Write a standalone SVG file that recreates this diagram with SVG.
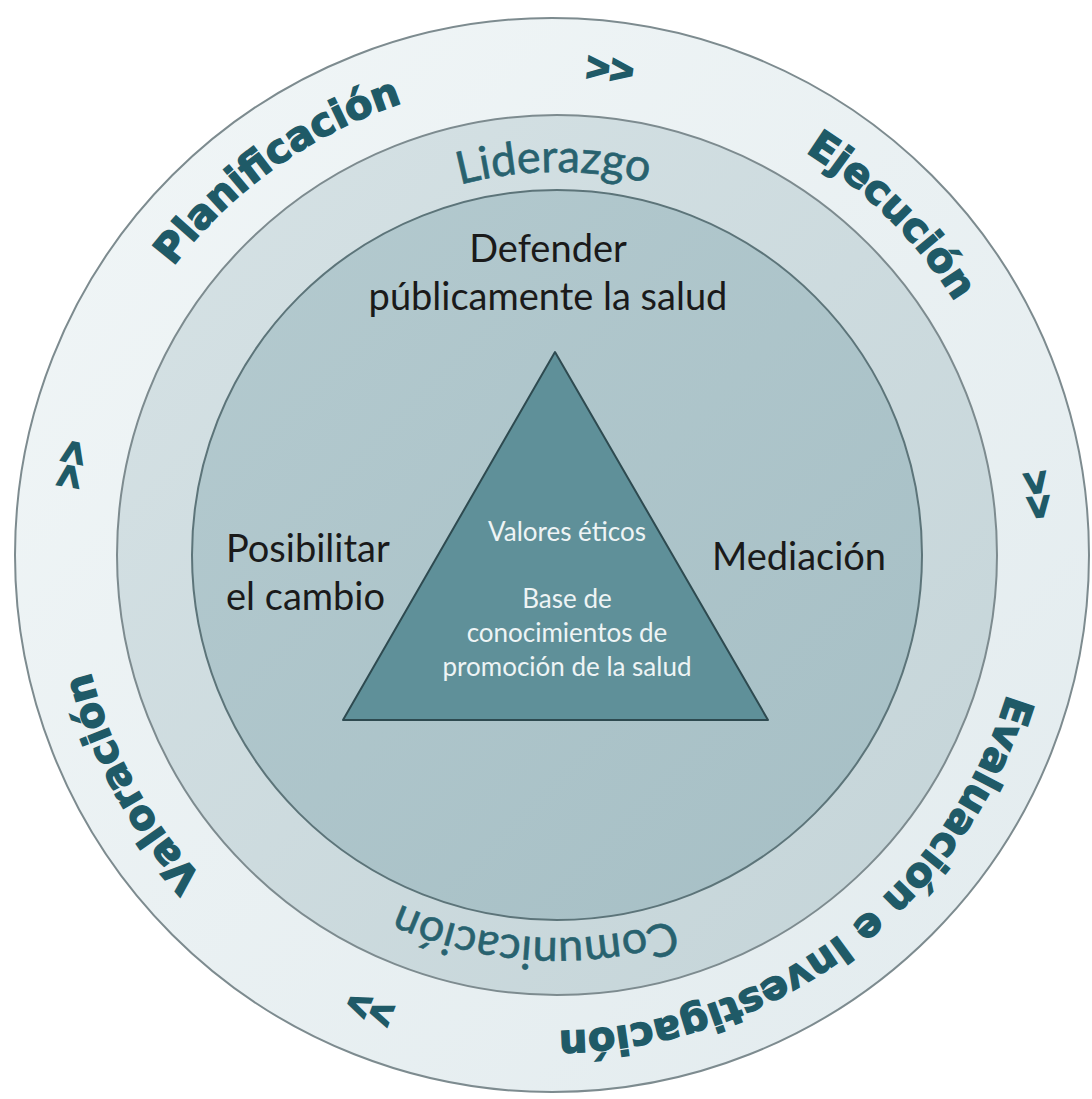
<svg xmlns="http://www.w3.org/2000/svg" width="1092" height="1099" viewBox="0 0 1092 1099">
<defs>
<linearGradient id="gOuter" x1="0" y1="0" x2="1" y2="1">
<stop offset="0" stop-color="#f1f6f7"/><stop offset="1" stop-color="#e2ebee"/>
</linearGradient>
<linearGradient id="gRing" x1="0" y1="0" x2="1" y2="1">
<stop offset="0" stop-color="#d6e2e5"/><stop offset="1" stop-color="#c4d4d8"/>
</linearGradient>
<linearGradient id="gInner" x1="0" y1="0" x2="1" y2="1">
<stop offset="0" stop-color="#b4cacf"/><stop offset="1" stop-color="#a6bfc5"/>
</linearGradient>
<path id="pOuter" d="M104.7,392.2 A476,476 0 1,1 999.3,717.8 A476,476 0 1,1 104.7,392.2"/>
<path id="pRing" d="M174,555 A383,383 0 1,1 940,555 A383,383 0 1,1 174,555"/>
</defs>
<style>
.ring{stroke:#7d8b8f;stroke-width:2}
.outer{font-family:"DejaVu Sans",sans-serif;font-weight:bold;font-size:40px;fill:#1f5a67;stroke:#1f5a67;stroke-width:1.4;text-anchor:middle}
.chev{font-family:"Liberation Sans",Arial,sans-serif;font-weight:bold;font-size:40px;fill:#1f5a67;stroke:#1f5a67;stroke-width:2;text-anchor:middle}
.mid{font-family:Lato,"Open Sans",sans-serif;font-size:45px;fill:#28626f;stroke:#28626f;stroke-width:0.6;text-anchor:middle}
.dark{font-family:Lato,"Open Sans",sans-serif;font-size:38px;fill:#1a1a1a}
.white{font-family:Lato,"Open Sans",sans-serif;font-size:26px;fill:#eef4f5;text-anchor:middle}
</style>
<rect width="1092" height="1099" fill="#ffffff"/>
<g id="outer-ring">
<circle cx="552" cy="555" r="537" fill="url(#gOuter)" class="ring"/>
<text class="outer"><textPath href="#pOuter" startOffset="286.6">Planificación</textPath></text>
<text class="chev"><textPath href="#pOuter" startOffset="638">&gt;&gt;</textPath></text>
<text class="outer"><textPath href="#pOuter" startOffset="955.4">Ejecución</textPath></text>
<text class="chev"><textPath href="#pOuter" startOffset="1270.3">&gt;&gt;</textPath></text>
<text class="outer"><textPath href="#pOuter" startOffset="1770">Evaluación e Investigación</textPath></text>
<text class="chev"><textPath href="#pOuter" startOffset="2258.1">&gt;&gt;</textPath></text>
<text class="outer"><textPath href="#pOuter" startOffset="2587.9">Valoración</textPath></text>
<text class="chev"><textPath href="#pOuter" startOffset="2912.7">&gt;&gt;</textPath></text>
</g>
<g id="middle-ring">
<circle cx="557" cy="555" r="440" fill="url(#gRing)" class="ring"/>
<text class="mid"><textPath href="#pRing" startOffset="598">Liderazgo</textPath></text>
<text class="mid"><textPath href="#pRing" startOffset="1826">Comunicación</textPath></text>
</g>
<g id="inner-circle">
<circle cx="557" cy="555" r="365" fill="url(#gInner)" stroke="#5c7479" stroke-width="2"/>
<text class="dark" x="548" y="262" text-anchor="middle">Defender</text>
<text class="dark" x="548" y="310" text-anchor="middle">públicamente la salud</text>
<text class="dark" x="226" y="562">Posibilitar</text>
<text class="dark" x="226" y="610">el cambio</text>
<text class="dark" x="712" y="570">Mediación</text>
</g>
<g id="triangle">
<polygon points="555,352 768,720 343,720" fill="#5f9099" stroke="#2e4a50" stroke-width="2" stroke-linejoin="round"/>
<text class="white" x="567" y="541">Valores éticos</text>
<text class="white" x="567" y="608">Base de</text>
<text class="white" x="567" y="642">conocimientos de</text>
<text class="white" x="567" y="676">promoción de la salud</text>
</g>
</svg>
